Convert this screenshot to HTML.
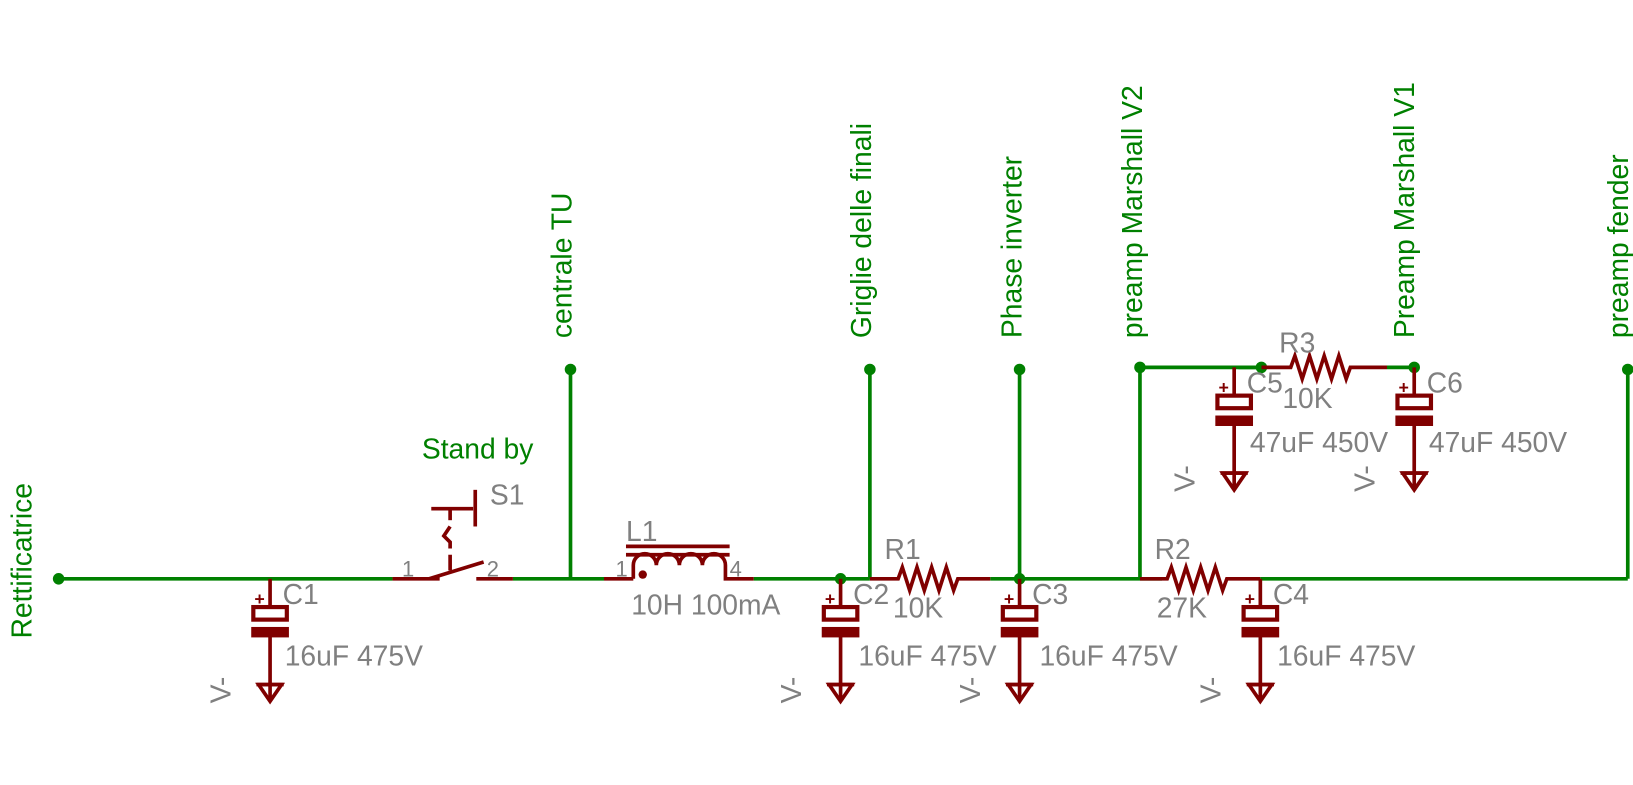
<!DOCTYPE html>
<html><head><meta charset="utf-8"><style>html,body{margin:0;padding:0;background:#fff}svg{display:block}</style></head>
<body>
<svg width="1633" height="785" viewBox="0 0 1560 750" preserveAspectRatio="none" xmlns="http://www.w3.org/2000/svg" font-family="Liberation Sans, sans-serif">
<defs>
<g id="cap">
 <line x1="0" y1="0" x2="0" y2="27" stroke="#800000" stroke-width="3.5"/>
 <rect x="-16" y="27" width="32" height="12" fill="none" stroke="#800000" stroke-width="4"/>
 <rect x="-18" y="46" width="36" height="10" fill="#800000"/>
 <line x1="0" y1="55" x2="0" y2="100" stroke="#800000" stroke-width="3.5"/>
 <line x1="-13" y1="101" x2="13" y2="101" stroke="#800000" stroke-width="3.5"/>
 <polygon points="-11,101 11,101 0,117" fill="none" stroke="#800000" stroke-width="3.5"/>
 <line x1="0" y1="101" x2="0" y2="115" stroke="#800000" stroke-width="3.5"/>
 <text x="-15" y="25" font-size="17" fill="#800000" font-weight="bold">+</text>
</g>
</defs>
<g stroke="#008000" stroke-width="3.5" fill="none">
 <line x1="56" y1="553" x2="375" y2="553"/>
 <line x1="490" y1="553" x2="577" y2="553"/>
 <line x1="545" y1="553" x2="545" y2="353"/>
 <line x1="720" y1="553" x2="831" y2="553"/>
 <line x1="831" y1="553" x2="831" y2="353"/>
 <line x1="946" y1="553" x2="1110" y2="553"/>
 <line x1="974" y1="553" x2="974" y2="353"/>
 <line x1="1089" y1="553" x2="1089" y2="353"/>
 <line x1="1089" y1="351" x2="1210" y2="351"/>
 <line x1="1325" y1="351" x2="1353" y2="351"/>
 <line x1="1204" y1="553" x2="1555" y2="553"/>
 <line x1="1555" y1="553" x2="1555" y2="353"/>
</g>
<g fill="#008000">
 <circle cx="56" cy="553" r="5.5"/><circle cx="545" cy="353" r="5.5"/>
 <circle cx="803" cy="553" r="5.5"/><circle cx="831" cy="353" r="5.5"/>
 <circle cx="974" cy="553" r="5.5"/><circle cx="974" cy="353" r="5.5"/>
 <circle cx="1089" cy="351" r="5.5"/><circle cx="1205" cy="351" r="5.5"/>
 <circle cx="1351" cy="351" r="5.5"/><circle cx="1555" cy="353" r="5.5"/>
</g>
<g stroke="#800000" stroke-width="3.5" fill="none">
 <line x1="375" y1="553" x2="420" y2="553"/>
 <line x1="410" y1="553" x2="462" y2="537"/>
 <line x1="455" y1="553" x2="490" y2="553"/>
 <line x1="430" y1="486" x2="430" y2="497" />
 <polyline points="430,503 424,512 430,518 430,524"/>
 <line x1="430" y1="530" x2="430" y2="545"/>
 <line x1="412" y1="486" x2="452" y2="486"/>
 <line x1="454" y1="468" x2="454" y2="503"/>
 <line x1="577" y1="553" x2="605" y2="553"/>
 <path d="M605,553 V540 a11,11 0 0 1 22,0 a11,11 0 0 1 22,0 a11,11 0 0 1 22,0 a11,11 0 0 1 22,0 V553 H720"/>
 <line x1="598" y1="522" x2="697" y2="522"/>
 <line x1="598" y1="530" x2="697" y2="530"/>
 <polyline points="831,553 858,553 862,542 869,564 876,542 883,564 890,542 897,564 904,542 911,564 915,553 946,553"/>
 <polyline points="1089,553 1115,553 1119,542 1126,564 1133,542 1140,564 1147,542 1154,564 1161,542 1168,564 1172,553 1204,553"/>
 <polyline points="1205,351 1233,351 1237,340 1244,362 1251,340 1258,362 1265,340 1272,362 1279,340 1286,362 1290,351 1325,351"/>
 <line x1="1183" y1="351" x2="1205" y2="351" stroke="#008000"/>
</g>
<circle cx="614" cy="549" r="4" fill="#800000"/>
<use href="#cap" x="258" y="553"/>
<use href="#cap" x="803" y="553"/>
<use href="#cap" x="974" y="553"/>
<use href="#cap" x="1204" y="553"/>
<use href="#cap" x="1179" y="351"/>
<use href="#cap" x="1351" y="351"/>
<g fill="#808080" font-size="27">
 <text x="270" y="577">C1</text><text x="272" y="636">16uF 475V</text>
 <text x="815" y="577">C2</text><text x="820" y="636">16uF 475V</text>
 <text x="986" y="577">C3</text><text x="993" y="636">16uF 475V</text>
 <text x="1216" y="577">C4</text><text x="1220" y="636">16uF 475V</text>
 <text x="1191" y="375">C5</text><text x="1194" y="432">47uF 450V</text>
 <text x="1363" y="375">C6</text><text x="1365" y="432">47uF 450V</text>
 <text x="845" y="534">R1</text><text x="853" y="590">10K</text>
 <text x="1103" y="534">R2</text><text x="1105" y="590">27K</text>
 <text x="1222" y="337">R3</text><text x="1225" y="390">10K</text>
 <text x="468" y="482">S1</text>
 <text x="598" y="517">L1</text><text x="603" y="587">10H 100mA</text>
 <text x="384" y="551" font-size="21">1</text><text x="465" y="551" font-size="21">2</text>
 <text x="588" y="551" font-size="21">1</text><text x="697" y="551" font-size="21">4</text>
 <text transform="translate(220,672) rotate(-90)">V-</text>
 <text transform="translate(765,672) rotate(-90)">V-</text>
 <text transform="translate(936,672) rotate(-90)">V-</text>
 <text transform="translate(1166,672) rotate(-90)">V-</text>
 <text transform="translate(1141,470) rotate(-90)">V-</text>
 <text transform="translate(1313,470) rotate(-90)">V-</text>
</g>
<g fill="#008000" font-size="27">
 <text x="403" y="438">Stand by</text>
 <text transform="translate(30,610) rotate(-90)">Rettificatrice</text>
 <text transform="translate(546,323) rotate(-90)">centrale TU</text>
 <text transform="translate(832,323) rotate(-90)">Griglie delle finali</text>
 <text transform="translate(976,323) rotate(-90)">Phase inverter</text>
 <text transform="translate(1091,323) rotate(-90)">preamp Marshall V2</text>
 <text transform="translate(1351,323) rotate(-90)">Preamp Marshall V1</text>
 <text transform="translate(1555,323) rotate(-90)">preamp fender</text>
</g>
</svg>
</body></html>
